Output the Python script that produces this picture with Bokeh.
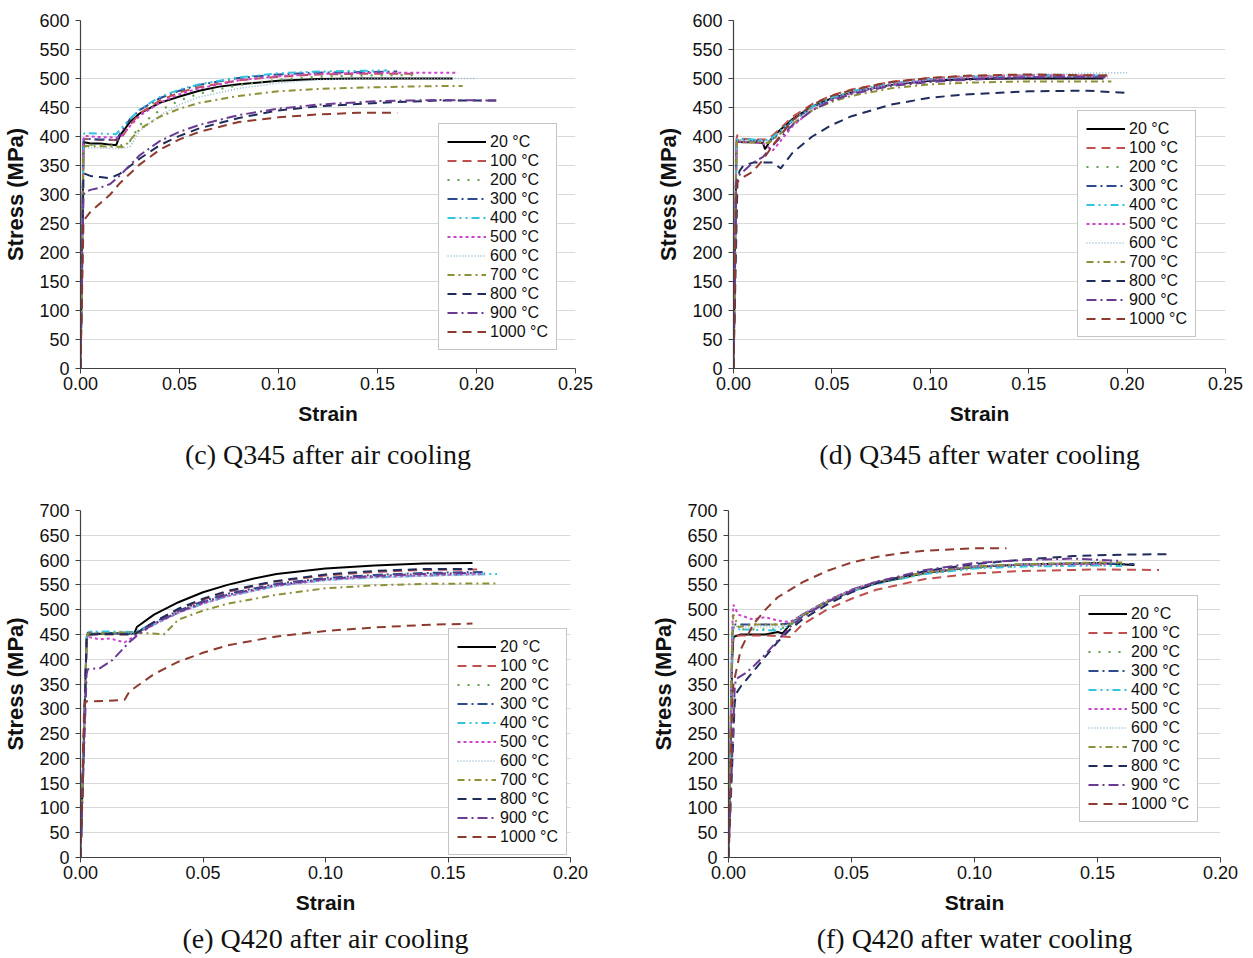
from bokeh.plotting import figure
from bokeh.layouts import column, row
from bokeh.models import Range1d, FixedTicker, NumeralTickFormatter, Legend, LegendItem, Title
from bokeh.embed import file_html
from bokeh.resources import INLINE

# ---------------- legend / style data ----------------
temps = ["20 °C", "100 °C", "200 °C", "300 °C", "400 °C", "500 °C",
         "600 °C", "700 °C", "800 °C", "900 °C", "1000 °C"]
colors = ["#000000", "#C0504D", "#5E9E4E", "#2E4A8E", "#33C3E0", "#CC44CC",
          "#8FB8CC", "#8E9038", "#1F2C5C", "#6B3A92", "#8E3A2E"]
dashes = ["solid", "9 6", "2 8", "10 4 2 4", "8 4 2 4 2 4", "3 3",
          "1 2", "7 4 2 4", "9 6", "10 4 2 4", "9 6"]
widths = [2.0, 2.0, 2.2, 2.0, 2.0, 2.0, 1.6, 2.0, 2.0, 2.0, 2.0]

x_ticks_345 = [0.0, 0.05, 0.10, 0.15, 0.20, 0.25]
x_ticks_420 = [0.0, 0.05, 0.10, 0.15, 0.20]
y_ticks_345 = [0, 50, 100, 150, 200, 250, 300, 350, 400, 450, 500, 550, 600]
y_ticks_420 = [0, 50, 100, 150, 200, 250, 300, 350, 400, 450, 500, 550, 600, 650, 700]

captions = ["(c) Q345 after air cooling", "(d) Q345 after water cooling",
            "(e) Q420 after air cooling", "(f) Q420 after water cooling"]

# ---------------- (c) Q345 after air cooling ----------------
c20_e = [0, 0.0015, 0.002, 0.005, 0.01, 0.015, 0.018, 0.02, 0.025, 0.03, 0.04, 0.05, 0.06, 0.07, 0.08, 0.10, 0.12, 0.14, 0.16, 0.188]
c20_s = [0, 385, 390, 388, 388, 386, 385, 402, 425, 440, 458, 469, 479, 486, 490, 496, 499, 500, 500, 500]
c100_e = [0, 0.0015, 0.002, 0.01, 0.02, 0.025, 0.03, 0.04, 0.05, 0.06, 0.08, 0.10, 0.12, 0.14, 0.17]
c100_s = [0, 390, 396, 394, 394, 420, 440, 462, 476, 485, 497, 503, 507, 508, 508]
c200_e = [0, 0.0015, 0.002, 0.01, 0.02, 0.025, 0.03, 0.04, 0.05, 0.06, 0.08, 0.10, 0.12, 0.14, 0.17]
c200_s = [0, 380, 386, 385, 384, 392, 420, 445, 462, 474, 489, 498, 503, 505, 506]
c300_e = [0, 0.0015, 0.002, 0.01, 0.018, 0.02, 0.025, 0.03, 0.04, 0.05, 0.06, 0.08, 0.10, 0.12, 0.16]
c300_s = [0, 390, 396, 395, 394, 405, 430, 446, 466, 479, 489, 501, 507, 510, 512]
c400_e = [0, 0.0015, 0.002, 0.01, 0.018, 0.022, 0.03, 0.04, 0.05, 0.06, 0.08, 0.10, 0.12, 0.155]
c400_s = [0, 400, 406, 405, 404, 420, 447, 468, 481, 490, 502, 509, 512, 514]
c500_e = [0, 0.0015, 0.002, 0.01, 0.02, 0.025, 0.03, 0.04, 0.05, 0.06, 0.08, 0.10, 0.12, 0.15, 0.19]
c500_s = [0, 396, 401, 399, 398, 418, 436, 458, 473, 483, 497, 504, 508, 510, 510]
c600_e = [0, 0.0015, 0.002, 0.01, 0.02, 0.025, 0.03, 0.04, 0.05, 0.06, 0.08, 0.10, 0.12, 0.15, 0.20]
c600_s = [0, 375, 381, 380, 379, 382, 410, 436, 455, 468, 483, 492, 498, 500, 500]
c700_e = [0, 0.0015, 0.002, 0.01, 0.022, 0.03, 0.04, 0.05, 0.06, 0.08, 0.10, 0.12, 0.15, 0.18, 0.193]
c700_s = [0, 378, 384, 383, 382, 413, 434, 448, 458, 470, 478, 482, 485, 487, 487]
c800_e = [0, 0.0015, 0.002, 0.005, 0.01, 0.015, 0.02, 0.03, 0.04, 0.05, 0.06, 0.08, 0.10, 0.12, 0.15, 0.18, 0.21]
c800_s = [0, 330, 336, 332, 330, 328, 336, 362, 385, 401, 414, 432, 445, 452, 458, 462, 462]
c900_e = [0, 0.0015, 0.002, 0.005, 0.01, 0.015, 0.02, 0.03, 0.04, 0.05, 0.06, 0.08, 0.10, 0.12, 0.15, 0.18, 0.21]
c900_s = [0, 298, 303, 308, 312, 318, 333, 368, 392, 408, 420, 437, 448, 455, 461, 463, 462]
c1000_e = [0, 0.0015, 0.002, 0.005, 0.01, 0.015, 0.02, 0.03, 0.04, 0.05, 0.06, 0.08, 0.10, 0.12, 0.14, 0.16]
c1000_s = [0, 250, 257, 270, 285, 300, 320, 352, 377, 395, 408, 425, 433, 438, 441, 441]

# ---------------- (d) Q345 after water cooling ----------------
d20_e = [0, 0.0015, 0.002, 0.005, 0.01, 0.015, 0.016, 0.02, 0.03, 0.04, 0.05, 0.06, 0.08, 0.10, 0.12, 0.15, 0.188]
d20_s = [0, 385, 391, 390, 390, 389, 378, 400, 430, 452, 466, 476, 489, 496, 499, 500, 500]
d100_e = [0, 0.0015, 0.002, 0.004, 0.01, 0.017, 0.02, 0.03, 0.04, 0.05, 0.06, 0.08, 0.10, 0.12, 0.15, 0.19]
d100_s = [0, 395, 403, 396, 395, 395, 402, 434, 456, 471, 481, 494, 501, 504, 506, 505]
d200_e = [0, 0.0015, 0.002, 0.01, 0.018, 0.02, 0.03, 0.04, 0.05, 0.06, 0.08, 0.10, 0.12, 0.15, 0.19]
d200_s = [0, 388, 393, 392, 391, 398, 428, 452, 467, 478, 491, 498, 501, 503, 503]
d300_e = [0, 0.0015, 0.002, 0.01, 0.018, 0.02, 0.03, 0.04, 0.05, 0.06, 0.08, 0.10, 0.12, 0.15, 0.19]
d300_s = [0, 388, 394, 393, 392, 396, 427, 450, 465, 476, 490, 497, 500, 502, 502]
d400_e = [0, 0.0015, 0.002, 0.01, 0.018, 0.02, 0.03, 0.04, 0.05, 0.06, 0.08, 0.10, 0.12, 0.15, 0.19]
d400_s = [0, 390, 396, 395, 394, 399, 428, 452, 467, 478, 492, 499, 503, 505, 505]
d500_e = [0, 0.0015, 0.002, 0.01, 0.015, 0.02, 0.03, 0.04, 0.05, 0.06, 0.08, 0.10, 0.12, 0.15, 0.185]
d500_s = [0, 385, 391, 390, 388, 376, 418, 446, 463, 475, 490, 498, 502, 505, 505]
d600_e = [0, 0.0015, 0.002, 0.01, 0.018, 0.02, 0.03, 0.04, 0.05, 0.06, 0.08, 0.10, 0.12, 0.15, 0.18, 0.20]
d600_s = [0, 388, 394, 393, 392, 396, 425, 449, 464, 475, 490, 498, 503, 507, 509, 510]
d700_e = [0, 0.0015, 0.002, 0.01, 0.018, 0.02, 0.03, 0.04, 0.05, 0.06, 0.08, 0.10, 0.12, 0.15, 0.192]
d700_s = [0, 385, 391, 390, 389, 394, 422, 445, 460, 470, 483, 490, 493, 495, 495]
d800_e = [0, 0.002, 0.003, 0.005, 0.01, 0.02, 0.024, 0.03, 0.04, 0.05, 0.06, 0.08, 0.10, 0.12, 0.15, 0.18, 0.20]
d800_s = [0, 320, 340, 350, 355, 355, 345, 372, 400, 420, 435, 455, 467, 473, 478, 479, 475]
d900_e = [0, 0.0015, 0.002, 0.005, 0.01, 0.015, 0.02, 0.03, 0.04, 0.05, 0.06, 0.08, 0.10, 0.12, 0.15, 0.19]
d900_s = [0, 325, 330, 340, 355, 365, 385, 420, 445, 462, 473, 487, 494, 498, 502, 502]
d1000_e = [0, 0.0015, 0.002, 0.005, 0.01, 0.015, 0.02, 0.03, 0.04, 0.05, 0.06, 0.08, 0.10, 0.12, 0.15, 0.19]
d1000_s = [0, 318, 322, 330, 340, 360, 385, 428, 455, 470, 480, 494, 501, 505, 507, 505]

# ---------------- (e) Q420 after air cooling ----------------
e20_e = [0, 0.0025, 0.003, 0.01, 0.022, 0.023, 0.03, 0.04, 0.05, 0.06, 0.07, 0.08, 0.10, 0.12, 0.14, 0.16]
e20_s = [0, 440, 450, 452, 452, 465, 490, 515, 535, 550, 562, 572, 583, 589, 593, 594]
e100_e = [0, 0.0025, 0.003, 0.01, 0.022, 0.03, 0.04, 0.05, 0.06, 0.08, 0.10, 0.12, 0.14, 0.162]
e100_s = [0, 440, 450, 450, 450, 475, 500, 520, 536, 557, 569, 576, 580, 581]
e200_e = [0, 0.0025, 0.003, 0.01, 0.022, 0.03, 0.04, 0.05, 0.06, 0.08, 0.10, 0.12, 0.14, 0.165]
e200_s = [0, 442, 452, 452, 451, 470, 496, 515, 530, 550, 562, 568, 572, 574]
e300_e = [0, 0.0025, 0.003, 0.01, 0.022, 0.03, 0.04, 0.05, 0.06, 0.08, 0.10, 0.12, 0.14, 0.165]
e300_s = [0, 444, 454, 453, 452, 474, 498, 517, 532, 552, 564, 570, 574, 576]
e400_e = [0, 0.0025, 0.003, 0.01, 0.022, 0.03, 0.04, 0.05, 0.06, 0.08, 0.10, 0.12, 0.15, 0.17]
e400_s = [0, 445, 456, 456, 455, 470, 494, 512, 527, 548, 560, 565, 570, 572]
e500_e = [0, 0.0025, 0.003, 0.008, 0.012, 0.018, 0.02, 0.03, 0.04, 0.05, 0.06, 0.08, 0.10, 0.12, 0.15, 0.165]
e500_s = [0, 435, 445, 440, 442, 434, 440, 470, 494, 512, 527, 548, 560, 566, 570, 572]
e600_e = [0, 0.0025, 0.003, 0.01, 0.022, 0.03, 0.04, 0.05, 0.06, 0.08, 0.10, 0.12, 0.15, 0.165]
e600_s = [0, 442, 452, 452, 451, 470, 494, 512, 527, 547, 559, 564, 569, 570]
e700_e = [0, 0.0025, 0.003, 0.01, 0.02, 0.034, 0.04, 0.05, 0.06, 0.08, 0.10, 0.12, 0.14, 0.17]
e700_s = [0, 442, 452, 452, 455, 450, 480, 498, 512, 530, 543, 549, 552, 553]
e800_e = [0, 0.0025, 0.003, 0.01, 0.022, 0.03, 0.04, 0.05, 0.06, 0.08, 0.10, 0.12, 0.14, 0.16]
e800_s = [0, 440, 450, 451, 450, 475, 502, 522, 538, 558, 571, 578, 582, 582]
e900_e = [0, 0.0025, 0.003, 0.008, 0.013, 0.02, 0.025, 0.03, 0.04, 0.05, 0.06, 0.08, 0.10, 0.12, 0.14, 0.16]
e900_s = [0, 370, 380, 382, 398, 435, 455, 472, 495, 515, 530, 550, 562, 568, 572, 574]
e1000_e = [0, 0.0015, 0.002, 0.01, 0.018, 0.02, 0.03, 0.04, 0.05, 0.06, 0.08, 0.10, 0.12, 0.14, 0.16]
e1000_s = [0, 305, 315, 316, 318, 335, 370, 395, 413, 428, 446, 457, 464, 469, 472]

# ---------------- (f) Q420 after water cooling ----------------
f20_e = [0, 0.0015, 0.002, 0.005, 0.015, 0.02, 0.022, 0.025, 0.03, 0.04, 0.05, 0.06, 0.08, 0.10, 0.12, 0.15, 0.165]
f20_s = [0, 400, 445, 450, 450, 455, 452, 470, 488, 515, 537, 553, 574, 586, 591, 594, 590]
f100_e = [0, 0.0015, 0.002, 0.005, 0.015, 0.025, 0.03, 0.04, 0.05, 0.06, 0.08, 0.10, 0.12, 0.15, 0.175]
f100_s = [0, 420, 447, 448, 448, 445, 470, 500, 522, 540, 562, 573, 578, 581, 580]
f200_e = [0, 0.0015, 0.002, 0.005, 0.02, 0.025, 0.03, 0.04, 0.05, 0.06, 0.08, 0.10, 0.12, 0.15, 0.16]
f200_s = [0, 440, 465, 460, 460, 468, 488, 515, 537, 553, 573, 584, 588, 590, 590]
f300_e = [0, 0.0015, 0.002, 0.005, 0.02, 0.025, 0.03, 0.04, 0.05, 0.06, 0.08, 0.10, 0.12, 0.15, 0.165]
f300_s = [0, 440, 470, 470, 470, 472, 490, 517, 540, 556, 576, 587, 591, 593, 592]
f400_e = [0, 0.0015, 0.002, 0.005, 0.02, 0.025, 0.03, 0.04, 0.05, 0.06, 0.08, 0.10, 0.12, 0.15, 0.16]
f400_s = [0, 440, 462, 460, 458, 468, 488, 515, 537, 552, 572, 583, 587, 589, 588]
f500_e = [0, 0.0015, 0.002, 0.004, 0.01, 0.015, 0.02, 0.025, 0.03, 0.04, 0.05, 0.06, 0.08, 0.10, 0.12, 0.155]
f500_s = [0, 460, 510, 490, 480, 485, 478, 475, 490, 518, 540, 556, 576, 587, 591, 592]
f600_e = [0, 0.0015, 0.002, 0.005, 0.02, 0.025, 0.03, 0.04, 0.05, 0.06, 0.08, 0.10, 0.12, 0.15, 0.16]
f600_s = [0, 440, 466, 465, 465, 470, 490, 517, 539, 555, 575, 587, 592, 595, 595]
f700_e = [0, 0.0015, 0.002, 0.004, 0.01, 0.022, 0.025, 0.03, 0.04, 0.05, 0.06, 0.08, 0.10, 0.12, 0.15, 0.16]
f700_s = [0, 450, 490, 465, 470, 470, 470, 488, 516, 538, 555, 575, 587, 592, 595, 595]
f800_e = [0, 0.0025, 0.003, 0.005, 0.01, 0.015, 0.02, 0.025, 0.03, 0.04, 0.05, 0.06, 0.08, 0.10, 0.12, 0.14, 0.16, 0.18]
f800_s = [0, 310, 330, 345, 375, 405, 435, 460, 480, 510, 535, 553, 578, 592, 601, 608, 611, 612]
f900_e = [0, 0.0025, 0.003, 0.007, 0.01, 0.015, 0.02, 0.025, 0.03, 0.04, 0.05, 0.06, 0.08, 0.10, 0.12, 0.14, 0.16]
f900_s = [0, 340, 360, 372, 385, 410, 438, 465, 485, 515, 538, 556, 580, 594, 600, 603, 598]
f1000_e = [0, 0.0015, 0.002, 0.005, 0.01, 0.015, 0.02, 0.03, 0.04, 0.05, 0.06, 0.07, 0.08, 0.10, 0.113]
f1000_s = [0, 300, 350, 420, 470, 500, 525, 555, 578, 595, 606, 614, 619, 624, 624]

series_c = [(c20_e, c20_s), (c100_e, c100_s), (c200_e, c200_s), (c300_e, c300_s),
            (c400_e, c400_s), (c500_e, c500_s), (c600_e, c600_s), (c700_e, c700_s),
            (c800_e, c800_s), (c900_e, c900_s), (c1000_e, c1000_s)]
series_d = [(d20_e, d20_s), (d100_e, d100_s), (d200_e, d200_s), (d300_e, d300_s),
            (d400_e, d400_s), (d500_e, d500_s), (d600_e, d600_s), (d700_e, d700_s),
            (d800_e, d800_s), (d900_e, d900_s), (d1000_e, d1000_s)]
series_e = [(e20_e, e20_s), (e100_e, e100_s), (e200_e, e200_s), (e300_e, e300_s),
            (e400_e, e400_s), (e500_e, e500_s), (e600_e, e600_s), (e700_e, e700_s),
            (e800_e, e800_s), (e900_e, e900_s), (e1000_e, e1000_s)]
series_f = [(f20_e, f20_s), (f100_e, f100_s), (f200_e, f200_s), (f300_e, f300_s),
            (f400_e, f400_s), (f500_e, f500_s), (f600_e, f600_s), (f700_e, f700_s),
            (f800_e, f800_s), (f900_e, f900_s), (f1000_e, f1000_s)]

SANS = "Liberation Sans"
SERIF = "Liberation Serif"


def make_panel(series, xmax, ymax, xticks, yticks, caption, width, height,
               mb_left, mb_right, mb_top, mb_bottom, legend_loc, cap_standoff):
    p = figure(width=width, height=height, output_backend="svg", toolbar_location=None,
               x_range=Range1d(0, xmax), y_range=Range1d(0, ymax),
               min_border_left=mb_left, min_border_right=mb_right,
               min_border_top=mb_top, min_border_bottom=mb_bottom)
    p.outline_line_color = None
    p.background_fill_color = "white"
    p.border_fill_color = "white"
    p.xgrid.grid_line_color = None
    p.ygrid.grid_line_color = "#D9D9D9"
    p.ygrid.grid_line_width = 1

    p.xaxis.ticker = FixedTicker(ticks=xticks)
    p.yaxis.ticker = FixedTicker(ticks=yticks)
    p.xaxis.formatter = NumeralTickFormatter(format="0.00")
    for ax in (p.xaxis, p.yaxis):
        ax.axis_line_color = "#404040"
        ax.axis_line_width = 1.2
        ax.major_tick_line_color = "#404040"
        ax.major_tick_out = 5
        ax.major_tick_in = 0
        ax.minor_tick_line_color = None
        ax.major_label_text_font = SANS
        ax.major_label_text_font_size = "18px"
        ax.major_label_text_color = "#111111"
        ax.axis_label_text_font = SANS
        ax.axis_label_text_font_style = "bold"
        ax.axis_label_text_color = "#111111"
    p.xaxis.axis_label_text_font_size = "21px"
    p.yaxis.axis_label_text_font_size = "22px"
    p.xaxis.axis_label = "Strain"
    p.yaxis.axis_label = "Stress (MPa)"
    p.xaxis.major_label_standoff = 3
    p.yaxis.major_label_standoff = 6
    p.xaxis.axis_label_standoff = 9
    p.yaxis.axis_label_standoff = 8

    items = []
    for i, (e, s) in enumerate(series):
        r = p.line(e, s, line_color=colors[i], line_dash=dashes[i], line_width=widths[i])
        items.append(LegendItem(label=temps[i], renderers=[r]))

    leg = Legend(items=items, location=legend_loc)
    leg.label_text_font = SANS
    leg.label_text_font_size = "16px"
    leg.label_text_color = "#111111"
    leg.label_height = 19
    leg.glyph_height = 19
    leg.glyph_width = 39
    leg.label_standoff = 4
    leg.spacing = 0
    leg.padding = 8
    leg.margin = 0
    leg.border_line_color = "#8C8C8C"
    leg.border_line_width = 1
    leg.background_fill_color = "white"
    leg.background_fill_alpha = 1.0
    p.add_layout(leg, "center")

    t = Title(text=caption, align="center", text_font=SERIF, text_font_size="28px",
              text_font_style="normal", text_color="#111111", standoff=cap_standoff)
    p.add_layout(t, "below")
    return p


p_c = make_panel(series_c, 0.25, 600, x_ticks_345, y_ticks_345, captions[0],
                 648, 488, 80, 73, 20, 120, (358, 18), 18)
p_d = make_panel(series_d, 0.25, 600, x_ticks_345, y_ticks_345, captions[1],
                 605, 488, 85, 28, 20, 120, (344, 31), 18)
p_e = make_panel(series_e, 0.20, 700, x_ticks_420, y_ticks_420, captions[2],
                 648, 470, 77, 78, 22, 101, (368, 2), 8)
p_f = make_panel(series_f, 0.20, 700, x_ticks_420, y_ticks_420, captions[3],
                 605, 470, 79, 33, 22, 101, (351, 35), 8)

layout = column(row(p_c, p_d), row(p_e, p_f))

with open("out.html", "w") as fh:
    fh.write(file_html(layout, INLINE))
